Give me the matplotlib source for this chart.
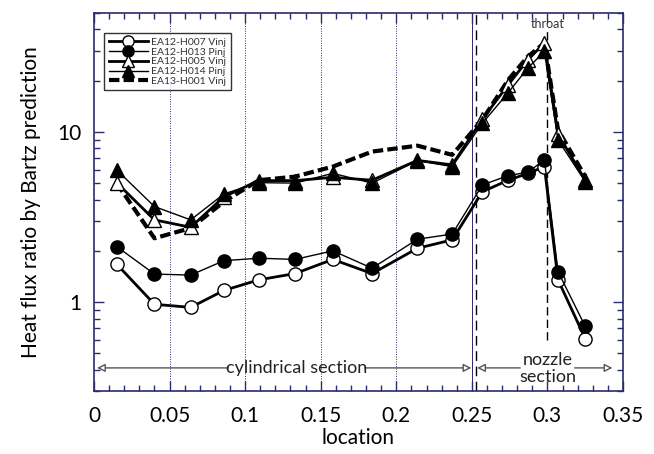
import numpy as np
import matplotlib
matplotlib.use("Agg")
import matplotlib.pyplot as plt
from matplotlib.ticker import FixedLocator, LogLocator, NullFormatter, MultipleLocator

######## DATA ########
loc = [0.015, 0.04, 0.064, 0.086, 0.109, 0.133, 0.158, 0.184, 0.214, 0.237,
       0.257, 0.274, 0.287, 0.298, 0.307, 0.325]

h007_vinj = [1.67, 0.97, 0.93, 1.17, 1.35, 1.47, 1.78, 1.47, 2.07, 2.32,
             4.45, 5.2, 5.7, 6.25, 1.35, 0.61]
h013_pinj = [2.12, 1.46, 1.44, 1.75, 1.81, 1.78, 2.0, 1.58, 2.34, 2.51,
             4.88, 5.53, 5.8, 6.84, 1.51, 0.72]
h005_vinj = [5.03, 3.04, 2.75, 4.16, 5.17, 5.17, 5.41, 5.2, 6.8, 6.4,
             11.9, 18.9, 26.5, 33.3, 9.7, 5.2]
h014_pinj = [5.98, 3.64, 3.04, 4.32, 5.03, 5.0, 5.71, 5.0, 6.78, 6.25,
             11.25, 17.0, 23.7, 29.7, 8.97, 5.1]
h001_vinj = [5.0, 2.37, 2.72, 3.89, 5.2, 5.46, 6.25, 7.66, 8.3, 7.33,
             11.8, 20.2, 27.7, 33.3, 10.3, 5.46]

labels = ["EA12-H007 Vinj", "EA12-H013 Pinj", "EA12-H005 Vinj",
          "EA12-H014 Pinj", "EA13-H001 Vinj"]

grid_x = [0.05, 0.1, 0.15, 0.2]
x_ticks = [0, 0.05, 0.1, 0.15, 0.2, 0.25, 0.3, 0.35]
x_ticklabels = ["0", "0.05", "0.1", "0.15", "0.2", "0.25", "0.3", "0.35"]

navy = "#2b2b70"
plt.rcParams['font.family'] = ['Lato', 'DejaVu Sans']

######## FIGURE ########
fig = plt.figure(figsize=(6.54, 4.54), dpi=100)
ax = fig.add_axes([0.1437, 0.1388, 0.8089, 0.8326])

# reference lines
for gx in grid_x:
    ax.axvline(gx, color=navy, lw=0.7, ls=(0, (1, 1.5)), zorder=1)
ax.axvline(0.25, color=navy, lw=0.7, zorder=1)
ax.axvline(0.2527, color="black", lw=1.0, ls=(0, (7, 4)), zorder=1)
ax.plot([0.3, 0.3], [0.6, 40], color="black", lw=1.0, ls=(0, (6, 3)), zorder=1)

# data
ax.plot(loc, h007_vinj, color="black", lw=2.0, marker="o", ms=9.5,
        mfc="white", mec="black", mew=1.0, label=labels[0], zorder=3)
ax.plot(loc, h013_pinj, color="black", lw=1.0, marker="o", ms=9.5,
        mfc="black", mec="black", label=labels[1], zorder=4)
ax.plot(loc, h005_vinj, color="black", lw=2.0, marker="^", ms=9.5,
        mfc="white", mec="black", mew=1.0, label=labels[2], zorder=3)
ax.plot(loc, h014_pinj, color="black", lw=1.0, marker="^", ms=9.5,
        mfc="black", mec="black", label=labels[3], zorder=4)
ax.plot(loc, h001_vinj, color="black", lw=3.0, ls=(0, (2.5, 1)),
        label=labels[4], zorder=2)

ax.set_yscale("log")
ax.set_xlim(0, 0.35)
ax.set_ylim(0.3, 50)

ax.xaxis.set_major_locator(FixedLocator(x_ticks))
ax.xaxis.set_minor_locator(MultipleLocator(0.01))
ax.set_xticklabels(x_ticklabels)
ax.yaxis.set_major_locator(FixedLocator([1, 10]))
ax.set_yticklabels(["1", "10"])
ax.yaxis.set_minor_locator(LogLocator(base=10, subs=np.arange(2, 10)))
ax.yaxis.set_minor_formatter(NullFormatter())

ax.tick_params(which="both", direction="in", top=True, right=True,
               color=navy, labelsize=15)
ax.tick_params(axis="x", pad=11)
ax.tick_params(axis="y", pad=9)
ax.tick_params(which="major", length=7, width=1)
ax.tick_params(which="minor", length=4, width=1)
for sp in ax.spines.values():
    sp.set_color(navy)
    sp.set_linewidth(1.2)

ax.set_xlabel("location", fontsize=15, labelpad=1)
ax.set_ylabel("Heat flux ratio by Bartz prediction", fontsize=15, labelpad=12)

# section arrows
arrow_y = 0.41
grey = "#555555"
aprops = dict(arrowstyle="-|>", color=grey, lw=1.0, fc="white",
              mutation_scale=12, shrinkA=0, shrinkB=0)
ax.annotate("", xy=(0.002, arrow_y), xytext=(0.089, arrow_y), arrowprops=aprops)
ax.annotate("", xy=(0.2497, arrow_y), xytext=(0.179, arrow_y), arrowprops=aprops)
ax.text(0.134, arrow_y, "cylindrical section", ha="center", va="center",
        fontsize=13, color="#222222")
ax.annotate("", xy=(0.2535, arrow_y), xytext=(0.282, arrow_y), arrowprops=aprops)
ax.annotate("", xy=(0.343, arrow_y), xytext=(0.318, arrow_y), arrowprops=aprops)
ax.text(0.3, 0.405, "nozzle\nsection", ha="center", va="center",
        fontsize=13, color="#222222", linespacing=1.05)
ax.text(0.3, 43, "throat", ha="center", va="center", fontsize=9, color="#333333")

leg = ax.legend(loc="upper left", fontsize=7.5, frameon=True, fancybox=False,
                edgecolor="black", handlelength=3.8, labelspacing=0.05,
                borderpad=0.4, handletextpad=0.3, markerscale=0.85,
                bbox_to_anchor=(0.01, 0.96))
leg.get_frame().set_linewidth(1.0)
for t in leg.get_texts():
    t.set_color("#333333")

fig.savefig("out.png", dpi=100)
